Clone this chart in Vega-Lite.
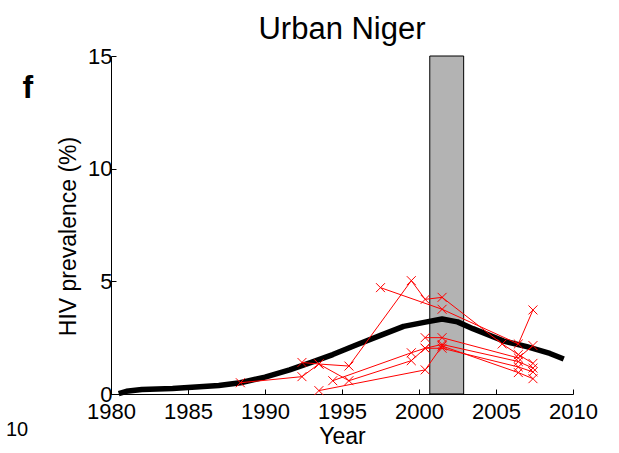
{
  "$schema": "https://vega.github.io/schema/vega-lite/v6.json",
  "autosize": {"type": "none"},
  "width": 462,
  "height": 338,
  "padding": {"left": 111, "top": 56, "right": 46, "bottom": 59},
  "background": "white",
  "title": {"text": "Urban Niger", "font": "Liberation Sans", "fontSize": 31, "fontWeight": "normal", "color": "black", "baseline": "bottom", "offset": 10, "dy": 42, "anchor": "middle"},
  "config": {
    "view": {"stroke": null},
    "font": "Liberation Sans",
    "axis": {"grid": false, "domainColor": "black", "tickColor": "black", "labelColor": "black", "titleColor": "black", "labelFont": "Liberation Sans", "titleFont": "Liberation Sans", "titleFontWeight": "normal", "labelFontSize": 22, "titleFontSize": 23, "tickSize": -5, "domainWidth": 1, "tickWidth": 1}
  },
  "datasets": {
    "model": [
      {"year": 1980.5, "prev": 0.02}, {"year": 1981, "prev": 0.12}, {"year": 1982, "prev": 0.2},
      {"year": 1984, "prev": 0.24}, {"year": 1986, "prev": 0.33}, {"year": 1987, "prev": 0.38},
      {"year": 1988.4, "prev": 0.5}, {"year": 1990, "prev": 0.75}, {"year": 1991.6, "prev": 1.07},
      {"year": 1993, "prev": 1.4}, {"year": 1994.4, "prev": 1.75}, {"year": 1996, "prev": 2.2},
      {"year": 1997.5, "prev": 2.6}, {"year": 1999, "prev": 3.0}, {"year": 2000.5, "prev": 3.2},
      {"year": 2001.5, "prev": 3.33}, {"year": 2002.5, "prev": 3.2}, {"year": 2003.5, "prev": 2.9},
      {"year": 2005.5, "prev": 2.35}, {"year": 2007, "prev": 2.1}, {"year": 2008.5, "prev": 1.8},
      {"year": 2009.4, "prev": 1.55}
    ],
    "surveys": [
      {"site": "S1", "year": 1992.4, "prev": 1.4}, {"site": "S1", "year": 1993.5, "prev": 1.33},
      {"site": "S1", "year": 1995.45, "prev": 1.24}, {"site": "S1", "year": 1999.5, "prev": 5.03},
      {"site": "S1", "year": 2000.4, "prev": 4.2}, {"site": "S1", "year": 2001.5, "prev": 4.29},
      {"site": "S1", "year": 2005.4, "prev": 2.22}, {"site": "S1", "year": 2006.45, "prev": 1.75},
      {"site": "S1", "year": 2007.4, "prev": 1.36},
      {"site": "S2", "year": 1997.5, "prev": 4.72}, {"site": "S2", "year": 2001.5, "prev": 3.76},
      {"site": "S2", "year": 2006.45, "prev": 2.22}, {"site": "S2", "year": 2007.4, "prev": 3.73},
      {"site": "S3", "year": 1988.4, "prev": 0.5}, {"site": "S3", "year": 1992.4, "prev": 0.77},
      {"site": "S3", "year": 1993.5, "prev": 1.33}, {"site": "S3", "year": 1995.45, "prev": 0.59},
      {"site": "S3", "year": 1999.5, "prev": 1.48}, {"site": "S3", "year": 2000.4, "prev": 2.03},
      {"site": "S3", "year": 2001.5, "prev": 2.2}, {"site": "S3", "year": 2006.45, "prev": 1.44},
      {"site": "S3", "year": 2007.4, "prev": 1.15},
      {"site": "S4", "year": 1994.4, "prev": 0.59}, {"site": "S4", "year": 1999.5, "prev": 1.83},
      {"site": "S4", "year": 2000.4, "prev": 2.03}, {"site": "S4", "year": 2001.5, "prev": 2.03},
      {"site": "S4", "year": 2006.45, "prev": 1.2}, {"site": "S4", "year": 2007.4, "prev": 0.98},
      {"site": "S5", "year": 1993.5, "prev": 0.15}, {"site": "S5", "year": 2000.4, "prev": 1.07},
      {"site": "S5", "year": 2001.5, "prev": 2.13}, {"site": "S5", "year": 2006.45, "prev": 0.95},
      {"site": "S5", "year": 2007.4, "prev": 0.68},
      {"site": "S6", "year": 2000.4, "prev": 2.5}, {"site": "S6", "year": 2001.5, "prev": 2.5},
      {"site": "S6", "year": 2006.45, "prev": 1.6}, {"site": "S6", "year": 2007.4, "prev": 2.15}
    ],
    "band": [{"start": 2000.7, "end": 2002.9, "low": 0, "high": 15}],
    "panel": [{"label": "f", "x": 1974.6, "y": 13.6}],
    "note": [{"label": "10", "x": 1973.9, "y": -1.6}]
  },
  "layer": [
    {
      "data": {"name": "band"},
      "mark": {"type": "rect", "fill": "#b3b3b3", "stroke": "black", "strokeWidth": 1},
      "encoding": {
        "x": {"field": "start", "type": "quantitative", "scale": {"domain": [1980, 2010], "nice": false, "zero": false},
              "axis": {"values": [1980, 1985, 1990, 1995, 2000, 2005, 2010], "format": "d", "title": "Year", "labelPadding": 12, "titlePadding": 3, "labelFlush": false}},
        "x2": {"field": "end"},
        "y": {"field": "low", "type": "quantitative", "scale": {"domain": [0, 15], "nice": false},
              "axis": {"values": [0, 5, 10, 15], "title": "HIV prevalence (%)", "labelPadding": 4, "titleY": 180, "titleX": -43, "titleBaseline": "middle", "titleAlign": "center"}},
        "y2": {"field": "high"}
      }
    },
    {
      "data": {"name": "model"},
      "mark": {"type": "line", "color": "black", "strokeWidth": 5.5, "strokeCap": "butt", "strokeJoin": "round"},
      "encoding": {
        "x": {"field": "year", "type": "quantitative"},
        "y": {"field": "prev", "type": "quantitative"}
      }
    },
    {
      "data": {"name": "surveys"},
      "mark": {"type": "line", "color": "#ff0000", "strokeWidth": 1},
      "encoding": {
        "x": {"field": "year", "type": "quantitative"},
        "y": {"field": "prev", "type": "quantitative"},
        "detail": {"field": "site"}
      }
    },
    {
      "data": {"name": "surveys"},
      "mark": {"type": "point", "shape": "M-1,-1L1,1M-1,1L1,-1", "filled": false, "color": "#ff0000", "strokeWidth": 1, "size": 80, "opacity": 1},
      "encoding": {
        "x": {"field": "year", "type": "quantitative"},
        "y": {"field": "prev", "type": "quantitative"}
      }
    },
    {
      "data": {"name": "panel"},
      "mark": {"type": "text", "fontSize": 32, "fontWeight": "bold", "font": "Liberation Sans", "color": "black", "align": "center", "baseline": "middle"},
      "encoding": {
        "x": {"field": "x", "type": "quantitative"},
        "y": {"field": "y", "type": "quantitative"},
        "text": {"field": "label"}
      }
    },
    {
      "data": {"name": "note"},
      "mark": {"type": "text", "fontSize": 20, "font": "Liberation Sans", "color": "black", "align": "center", "baseline": "middle"},
      "encoding": {
        "x": {"field": "x", "type": "quantitative"},
        "y": {"field": "y", "type": "quantitative"},
        "text": {"field": "label"}
      }
    }
  ]
}
